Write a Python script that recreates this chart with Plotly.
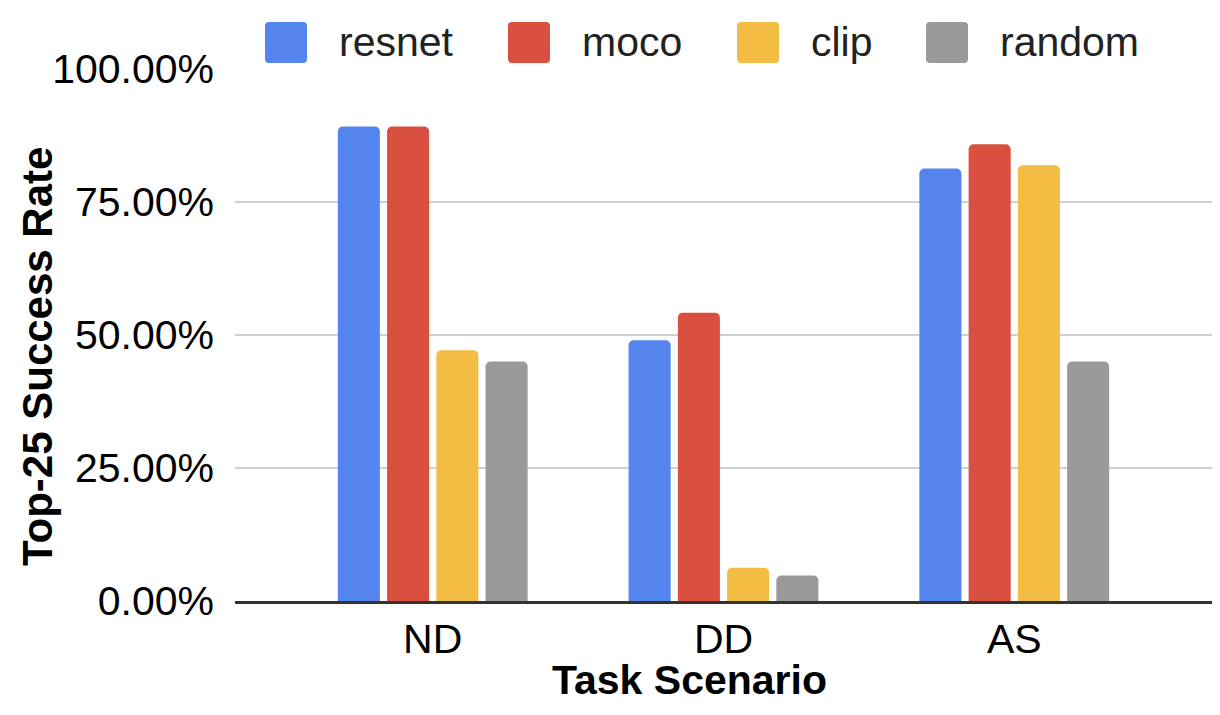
import plotly.graph_objects as go

# ---- data ----
categories = ["ND", "DD", "AS"]
series_names = ["resnet", "moco", "clip", "random"]
resnet = [0.892, 0.490, 0.813]
moco = [0.892, 0.542, 0.8585]
clip = [0.4715, 0.0626, 0.819]
random_ = [0.45, 0.048, 0.45]
y_ticks = [0, 0.25, 0.5, 0.75, 1.0]

colors = ["#5484ED", "#D95040", "#F2BD42", "#9A9A9A"]
values = [resnet, moco, clip, random_]

FONT = "Liberation Sans, Arial, sans-serif"
OFF = 8  # page body margin
W, H = 1220 - 2 * OFF, 715 - 2 * OFF + 0
# plot area in screen pixels
SL, SR, ST, SB = 235, 1212, 69, 601
L, R, T, B = SL - OFF, SR - OFF, ST - OFF, SB - OFF


def px_x(p):
    return (p - SL) / (SR - SL)


def px_y(p):
    return (SB - p) / (SB - ST)


fig = go.Figure()
for name, vals, col in zip(series_names, values, colors):
    fig.add_trace(go.Bar(
        x=categories, y=vals, name=name,
        marker=dict(color=col, cornerradius=5, line=dict(width=0)),
        showlegend=False,
    ))

# custom legend (large rounded squares + real text)
legend_sq_left = [265, 508, 737, 926]
sq = 42
top, bot = 22, 63
shapes = []
annotations = []
r = 4
for name, col, lx in zip(series_names, colors, legend_sq_left):
    x0, x1 = px_x(lx), px_x(lx + sq)
    y0, y1 = px_y(bot), px_y(top)
    rx = r / (SR - SL)
    ry = r / (SB - ST)
    path = (f"M{x0+rx},{y0} L{x1-rx},{y0} Q{x1},{y0} {x1},{y0+ry} "
            f"L{x1},{y1-ry} Q{x1},{y1} {x1-rx},{y1} L{x0+rx},{y1} "
            f"Q{x0},{y1} {x0},{y1-ry} L{x0},{y0+ry} Q{x0},{y0} {x0+rx},{y0} Z")
    shapes.append(dict(type="path", path=path, xref="paper", yref="paper",
                       fillcolor=col, line=dict(width=0), layer="above"))
    annotations.append(dict(text=name, x=px_x(lx + sq + 30), y=px_y(42),
                            xref="paper", yref="paper", xanchor="left",
                            yanchor="middle", showarrow=False,
                            font=dict(family=FONT, size=41, color="#222222")))

# axis titles
annotations.append(dict(text="<b>Top-25 Success Rate</b>", x=px_x(37), y=px_y(357),
                        xref="paper", yref="paper", xanchor="center", yanchor="middle",
                        textangle=-90, showarrow=False,
                        font=dict(family=FONT, size=42, color="#000000")))
annotations.append(dict(text="<b>Task Scenario</b>", x=px_x(689), y=px_y(680),
                        xref="paper", yref="paper", xanchor="center", yanchor="middle",
                        showarrow=False,
                        font=dict(family=FONT, size=41, color="#000000")))

fig.update_layout(
    width=W, height=H,
    margin=dict(l=L, r=max(W - R, 0), t=T, b=H - B, pad=0),
    paper_bgcolor="white", plot_bgcolor="white",
    barmode="group", bargap=0.3225, bargroupgap=0.146,
    font=dict(family=FONT, size=41, color="#000000"),
    shapes=shapes, annotations=annotations,
    showlegend=False,
    xaxis=dict(
        range=[-0.68, 2.68], showgrid=False, zeroline=False,
        showline=True, linecolor="#333333", linewidth=3, layer="above traces",
        ticks="", tickfont=dict(family=FONT, size=41, color="#000000"),
        ticklabelstandoff=0,
    ),
    yaxis=dict(
        range=[0, 1], tickvals=y_ticks, tickformat=".2%",
        showgrid=True, gridcolor="#D0D0D0", gridwidth=2,
        zeroline=False, showline=False, ticks="",
        tickfont=dict(family=FONT, size=41, color="#000000"),
        ticklabelstandoff=20,
    ),
)

fig.write_html("out.html")
